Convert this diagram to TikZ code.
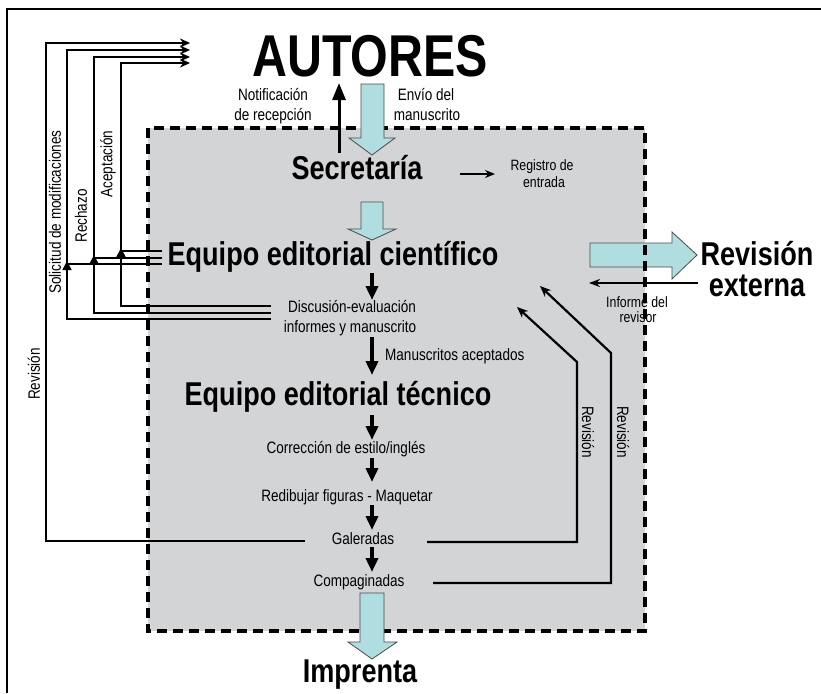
\documentclass[tikz,border=0pt]{standalone}
\usepackage{fontspec}
\newfontfamily\nar[FakeStretch=0.82]{Liberation Sans}
\usetikzlibrary{arrows.meta}
\definecolor{boxgray}{HTML}{D3D4D6}
\definecolor{cyanfill}{HTML}{B0DDE0}
\definecolor{cyanline}{HTML}{4A4A4A}
\begin{document}
\begin{tikzpicture}[x=1pt,y=-1pt,
  every node/.style={inner sep=0pt},
  bighead/.style={font=\nar\bfseries\fontsize{59}{59}\selectfont, anchor=base},
  head/.style={font=\nar\bfseries\fontsize{33}{33}\selectfont, anchor=base},
  small/.style={font=\nar\fontsize{16.5}{20}\selectfont, anchor=base},
  tiny/.style={font=\nar\fontsize{15}{17}\selectfont, anchor=base},
  vlabel/.style={font=\nar\fontsize{16.5}{20}\selectfont, anchor=center},
  blk/.style={line width=3.5pt, -{Triangle[width=12pt,length=14pt]}},
  back/.style={line width=2.8pt, -{Stealth[width=9pt,length=10pt]}},
  thinback/.style={line width=2.2pt, -{Stealth[width=9pt,length=11pt]}},
  jn/.style={line width=1.5pt, -{Triangle[width=9pt,length=9pt]}},
  plain/.style={line width=2.8pt},
  bigarrow/.style={fill=cyanfill, draw=cyanline, line width=0.8pt, line join=miter}
]
\useasboundingbox (0,0) rectangle (821,693);

% frame
\draw[line width=2.8pt] (7,693) -- (7,9) -- (821,9);

% grey box
\fill[boxgray] (148,128) rectangle (645,631);

% arrow to external review (below the dashed border)
\draw[bigarrow] (590,243) -- (672,243) -- (672,232) -- (697,255) -- (672,279) -- (672,267) -- (590,267) -- cycle;

\draw[line width=3.6pt, dash pattern=on 10pt off 6pt] (148,128) rectangle (645,631);

% big cyan arrows
\draw[bigarrow] (361,84) -- (384,84) -- (384,138) -- (395,138) -- (372,155) -- (349,138) -- (361,138) -- cycle;
\draw[bigarrow] (361,202) -- (383,202) -- (383,229) -- (396,229) -- (372,240) -- (348,229) -- (361,229) -- cycle;
\draw[bigarrow] (360,593) -- (384,593) -- (384,642) -- (397,642) -- (372,659) -- (348,642) -- (360,642) -- cycle;

% texts
\node[bighead] (aut) at (370,76) {AUTORES};
\node[small] (notif1) at (273,100) {Notificación};
\node[small] (notif2) at (273,120) {de recepción};
\node[small] (envio1) at (426,100) {Envío del};
\node[small] (envio2) at (427,120) {manuscrito};
\node[head] (sec) at (357,179) {Secretaría};
\node[tiny] (reg1) at (542,170) {Registro de};
\node[tiny] (reg2) at (544,187) {entrada};
\node[head] (eqc) at (333,265) {Equipo editorial científico};
\node[small] (disc1) at (352,312) {Discusión-evaluación};
\node[small] (disc2) at (350,332) {informes y manuscrito};
\node[small, anchor=base west] (acept) at (385,360) {Manuscritos aceptados};
\node[head] (eqt) at (338,405) {Equipo editorial técnico};
\node[small] (corr) at (346,453) {Corrección de estilo/inglés};
\node[small] (redib) at (347,501) {Redibujar figuras - Maquetar};
\node[small] (gal) at (363,544) {Galeradas};
\node[small] (comp) at (359,586) {Compaginadas};
\node[head] (impr) at (360,682) {Imprenta};
\node[head] (rev1) at (757,265) {Revisión};
\node[head] (rev2) at (757,296) {externa};
\node[tiny] (inf1) at (637,307) {Informe del};
\node[tiny] (inf2) at (638,322) {revisor};
\node[vlabel, rotate=90] (lsol) at (55,212) {Solicitud de modificaciones};
\node[vlabel, rotate=90] (lrec) at (81,216) {Rechazo};
\node[vlabel, rotate=90] (lace) at (108,164) {Aceptación};
\node[vlabel, rotate=90] (lrev) at (34,374) {Revisión};
\node[vlabel, rotate=-90] (rrev1) at (588,432) {Revisión};
\node[vlabel, rotate=-90] (rrev2) at (623,432) {Revisión};

% named points
\coordinate (t1) at (190,43); \coordinate (t2) at (190,50);
\coordinate (t3) at (190,57); \coordinate (t4) at (190,63);
\coordinate (galL) at (305,541); \coordinate (galR) at (427,542);
\coordinate (compR) at (433,583);
\coordinate (d1) at (271,306); \coordinate (d2) at (271,313); \coordinate (d3) at (271,319);
\coordinate (e1) at (162,251); \coordinate (e2) at (162,258); \coordinate (e3) at (162,264);

% return lines to authors
\draw[back] (galL) -- (46,541) -- (46,43) -- (t1);
\draw[back] (d3) -- (67,319) -- (67,50) -- (t2);
\draw[back] (d2) -- (94,313) -- (94,57) -- (t3);
\draw[back] (d1) -- (121,306) -- (121,63) -- (t4);
\draw[plain] (e3) -- (67,264);
\draw[plain] (e2) -- (94,258);
\draw[plain] (e1) -- (121,251);
\draw[jn] (67,271) -- (67,261);
\draw[jn] (94,265) -- (94,255);
\draw[jn] (121,258) -- (121,248);

% notification
\draw[line width=3pt, -{Triangle[width=13pt,length=17pt]}] (339,153) -- (339,83);
% registro
\draw[line width=2pt, -{Stealth[width=8pt,length=10pt]}] (460,174) -- (495,174);
% informe
\draw[line width=2.5pt, -{Stealth[width=8pt,length=11pt]}] (698,283) -- (589,283);

% central flow
\draw[blk] (372,273) -- (372,300);
\draw[blk] (372,337) -- (372,375);
\draw[blk] (372,415) -- (372,440);
\draw[blk] (372,458) -- (372,482);
\draw[blk] (372,505) -- (372,530);
\draw[blk] (372,547) -- (372,572);

% revision loops
\draw[thinback] (galR) -- (577,542) -- (577,362) -- (517,307);
\draw[thinback] (compR) -- (611,583) -- (611,353) -- (540,286);
\end{tikzpicture}
\end{document}
